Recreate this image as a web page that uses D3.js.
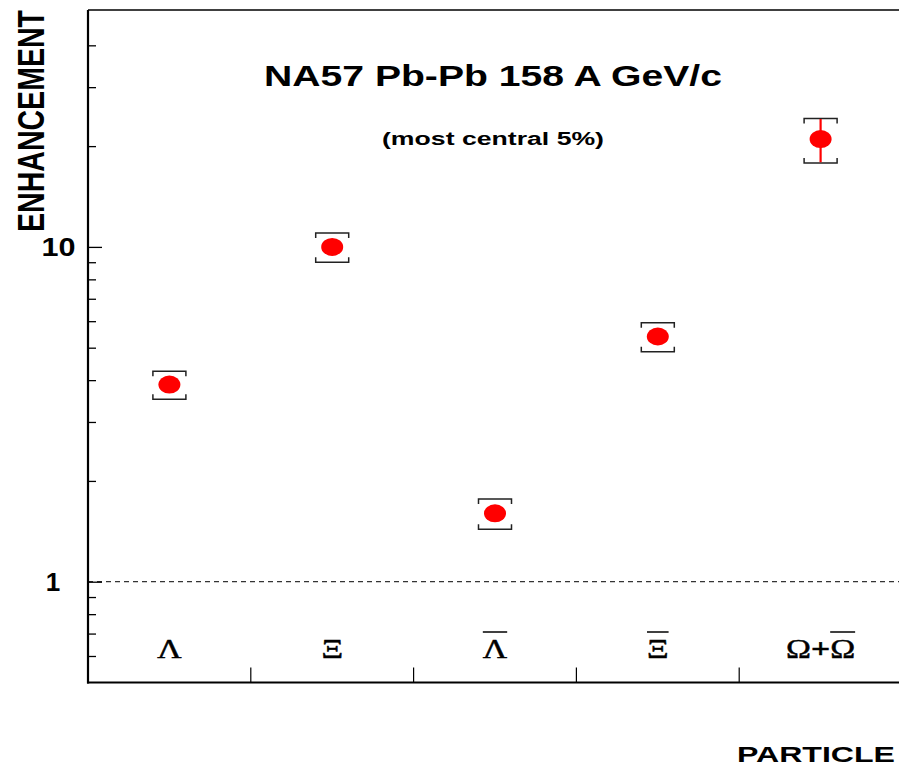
<!DOCTYPE html>
<html>
<head>
<meta charset="utf-8">
<script src="https://cdn.jsdelivr.net/npm/d3@7/dist/d3.min.js"></script>
<style>
  html, body { margin: 0; padding: 0; background: #fff; }
  svg { display: block; }
</style>
</head>
<body>
<svg id="chart" width="899" height="768"></svg>
<script>
// ---- data ----
const categories = ["L", "X", "Lbar", "Xbar", "Omega"];
const labelParts = [
  [{t: "\u039B", bar: false}],
  [{t: "\u039E", bar: false}],
  [{t: "\u039B", bar: true}],
  [{t: "\u039E", bar: true}],
  [{t: "\u03A9", bar: false}, {t: "+", bar: false, bold: true}, {t: "\u03A9", bar: true}]
];
const enhancement = [3.88, 10.0, 1.60, 5.40, 21.0];
const statErrors = [0.12, 0.3, 0.05, 0.2, 3.1];
const sysErrors = [0.37, 1.0, 0.165, 0.54, 3.2];
const majorTicks = [1, 10];
const majorTickLabels = ["1", "10"];
const minorTicks = [0.6, 0.7, 0.8, 0.9, 2, 3, 4, 5, 6, 7, 8, 9, 20, 30, 40];
const title = "NA57 Pb-Pb 158 A GeV/c";
const subtitle = "(most central 5%)";
const yTitle = "ENHANCEMENT";
const xTitle = "PARTICLE";

// ---- layout ----
const svg = d3.select("#chart");
const pLeft = 88, pRight = 902, pTop = 10, pBottom = 682.5;

const x = d3.scaleBand().domain(categories).range([pLeft, pRight]).paddingInner(0).paddingOuter(0);
const y = d3.scaleLog().domain([0.5, 51]).range([pBottom, pTop]);

// frame
svg.append("line").attr("x1", pLeft).attr("x2", 899).attr("y1", pTop).attr("y2", pTop)
  .attr("stroke", "#000").attr("stroke-width", 1.6);

// y ticks (inside)
const yMajor = d3.axisRight(y).tickValues(majorTicks).tickSize(14).tickFormat("");
const yMinor = d3.axisRight(y).tickValues(minorTicks).tickSize(8).tickFormat("");
const gyMinor = svg.append("g").attr("transform", `translate(${pLeft},0)`).call(yMinor);
const gyMajor = svg.append("g").attr("transform", `translate(${pLeft},0)`).call(yMajor);
[gyMinor, gyMajor].forEach(g => {
  g.select(".domain").remove();
  g.selectAll(".tick line").attr("stroke", "#000").attr("stroke-width", 1.3);
});

// y tick labels
svg.append("g").selectAll("text").data(majorTicks).join("text")
  .attr("x", (d, i) => i === 0 ? 53 : 58.5)
  .attr("y", d => y(d) + 9.5)
  .attr("text-anchor", "middle")
  .attr("font-family", "Liberation Sans, Arial, sans-serif")
  .attr("font-weight", "bold")
  .attr("font-size", 26)
  .attr("textLength", (d, i) => i === 0 ? null : 34)
  .attr("lengthAdjust", "spacingAndGlyphs")
  .text((d, i) => majorTickLabels[i]);

// x ticks at band boundaries (inside, upward)
const boundaries = categories.slice(1).map(c => x(c));
svg.append("g").selectAll("line").data(boundaries).join("line")
  .attr("x1", d => d).attr("x2", d => d)
  .attr("y1", pBottom).attr("y2", pBottom - 15)
  .attr("stroke", "#000").attr("stroke-width", 1.2);

// axes lines
svg.append("line").attr("x1", pLeft).attr("x2", pLeft).attr("y1", pTop).attr("y2", pBottom + 1)
  .attr("stroke", "#000").attr("stroke-width", 2.2);
svg.append("line").attr("x1", pLeft - 1).attr("x2", 899).attr("y1", pBottom).attr("y2", pBottom)
  .attr("stroke", "#000").attr("stroke-width", 2.2);

// reference dashed line at 1
svg.append("line").attr("x1", pLeft).attr("x2", 899).attr("y1", y(1)).attr("y2", y(1))
  .attr("stroke", "#000").attr("stroke-width", 1).attr("stroke-dasharray", "5,4");

// category labels (horizontally stretched like the original)
categories.forEach((c, i) => {
  const cx = x(c) + x.bandwidth() / 2;
  const g = svg.append("g").attr("transform", `translate(${cx},658) scale(1.2,1)`);
  const t = g.append("text")
    .attr("x", 0).attr("y", 0)
    .attr("text-anchor", "middle")
    .attr("font-family", "Liberation Serif, Times New Roman, serif")
    .attr("font-size", 28)
    .attr("stroke", "#000").attr("stroke-width", 0.5);
  labelParts[i].forEach(p => t.append("tspan").attr("font-weight", p.bold ? "bold" : "normal").text(p.t));
  const node = t.node();
  let idx = 0;
  labelParts[i].forEach(p => {
    if (p.bar) {
      const s = node.getStartPositionOfChar(idx).x;
      const e = node.getEndPositionOfChar(idx + p.t.length - 1).x;
      g.append("line").attr("x1", s).attr("x2", e)
        .attr("y1", -26).attr("y2", -26)
        .attr("stroke", "#000").attr("stroke-width", 1.5);
    }
    idx += p.t.length;
  });
});

// error bars & points
const cap = 16.5, hook = 5;
const pts = svg.append("g");
categories.forEach((c, i) => {
  const cx = x(c) + x.bandwidth() / 2;
  const v = enhancement[i];
  const ys1 = y(v + statErrors[i]), ys2 = y(v - statErrors[i]);
  const yt = y(v + sysErrors[i]), yb = y(v - sysErrors[i]);
  pts.append("path")
    .attr("d", `M${cx - cap},${yt + hook}V${yt}H${cx + cap}V${yt + hook}` +
               `M${cx - cap},${yb - hook}V${yb}H${cx + cap}V${yb - hook}`)
    .attr("fill", "none").attr("stroke", "#222").attr("stroke-width", 1.5);
  pts.append("line").attr("x1", cx).attr("x2", cx).attr("y1", ys1).attr("y2", ys2)
    .attr("stroke", "#ff0000").attr("stroke-width", 2.2);
  pts.append("ellipse").attr("cx", cx).attr("cy", y(v)).attr("rx", 11).attr("ry", 9)
    .attr("fill", "#ff0000");
});

// titles
svg.append("text").attr("x", 493).attr("y", 86)
  .attr("text-anchor", "middle")
  .attr("font-family", "Liberation Sans, Arial, sans-serif")
  .attr("font-weight", "bold").attr("font-size", 29)
  .attr("textLength", 458).attr("lengthAdjust", "spacingAndGlyphs")
  .text(title);
svg.append("text").attr("x", 493).attr("y", 145)
  .attr("text-anchor", "middle")
  .attr("font-family", "Liberation Sans, Arial, sans-serif")
  .attr("font-weight", "bold").attr("font-size", 18)
  .attr("textLength", 222).attr("lengthAdjust", "spacingAndGlyphs")
  .text(subtitle);

svg.append("text")
  .attr("transform", "translate(44,121) scale(1.3,1) rotate(-90)")
  .attr("text-anchor", "middle")
  .attr("font-family", "Liberation Sans, Arial, sans-serif")
  .attr("font-weight", "bold").attr("font-size", 29)
  .attr("textLength", 222).attr("lengthAdjust", "spacingAndGlyphs")
  .text(yTitle);

svg.append("text").attr("x", 737).attr("y", 762)
  .attr("font-family", "Liberation Sans, Arial, sans-serif")
  .attr("font-weight", "bold").attr("font-size", 22)
  .attr("textLength", 158).attr("lengthAdjust", "spacingAndGlyphs")
  .text(xTitle);
</script>
</body>
</html>
